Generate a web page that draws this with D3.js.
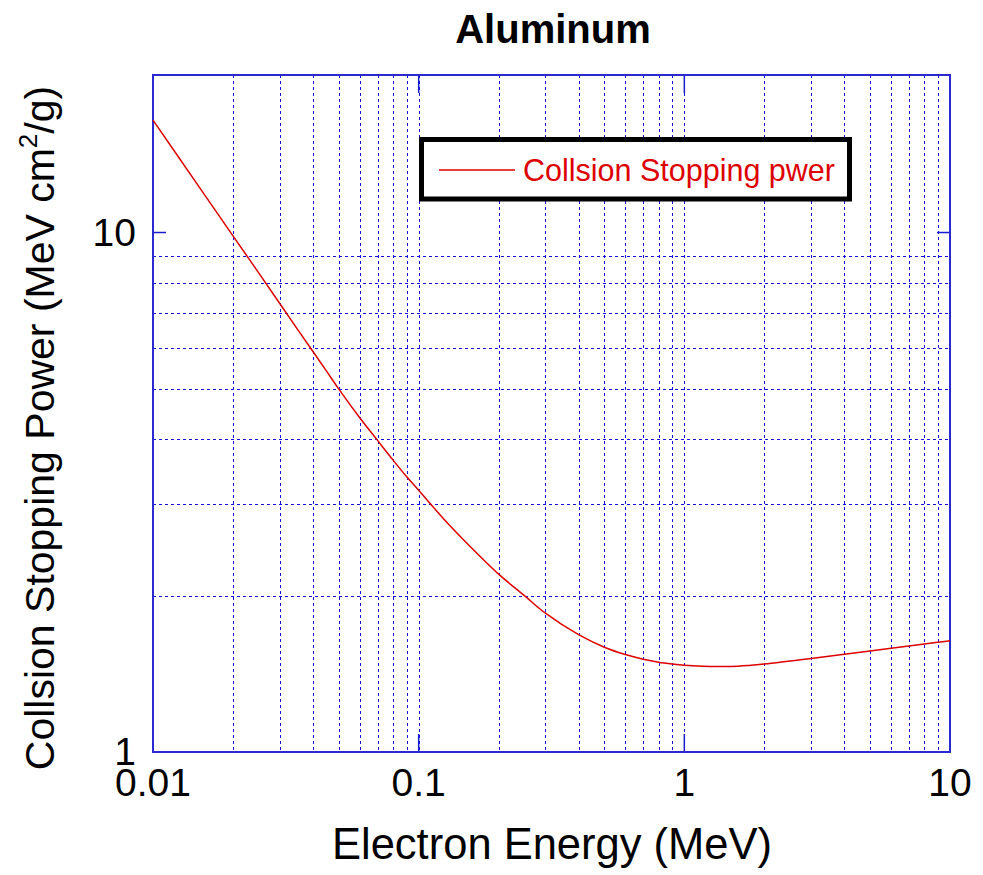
<!DOCTYPE html>
<html><head><meta charset="utf-8">
<script src="https://cdn.jsdelivr.net/npm/d3@7"></script>
<style>body{margin:0;background:#fff}svg{display:block;font-family:"Liberation Sans",Arial,sans-serif}</style>
</head><body>
<svg id="c" width="983" height="875"></svg>
<script>
const energy = [0.01,0.015,0.02,0.025,0.03,0.035,0.04,0.045,0.05,0.06,0.07,0.08,0.09,0.1,0.125,0.15,0.2,0.25,0.3,0.4,0.5,0.6,0.7,0.8,0.9,1,1.25,1.5,1.75,2,3,4,5,6,7,8,9,10];
const stopping = [16.46,12.19,9.85,8.36,7.30,6.51,5.90,5.41,5.00,4.40,3.98,3.65,3.39,3.19,2.80,2.54,2.20,2.00,1.850,1.682,1.591,1.540,1.509,1.489,1.477,1.469,1.461,1.461,1.468,1.477,1.514,1.543,1.564,1.584,1.600,1.614,1.626,1.638];
const xTicks = [0.01,0.1,1,10];
const xTickLabels = ["0.01","0.1","1","10"];
const yTicks = [1,10];
const yTickLabels = ["1","10"];
const yGrid = [2,3,4,5,6,7,8,9];
const title = "Aluminum";
const seriesName = "Collsion Stopping pwer";

const svg = d3.select("#c");
const L=153,R=950,T=75,B=752;
const x = d3.scaleLog().domain([0.01,10]).range([L,R]);
const y = d3.scaleLog().domain([1,20.1]).range([B,T]);
const gridColor = "#1010d8";

// vertical grid
const xGrid = [];
for (let d=0.01; d<10; d*=10) for (let k=2;k<=10;k++) xGrid.push(+(d*k).toPrecision(3));
svg.append("g").selectAll("line").data(xGrid.filter(v=>v<10)).join("line")
  .attr("x1",d=>Math.round(x(d))+0.5).attr("x2",d=>Math.round(x(d))+0.5)
  .attr("y1",T).attr("y2",B)
  .attr("stroke",gridColor).attr("stroke-width",1).attr("stroke-dasharray","3,3");
svg.append("g").selectAll("line").data(yGrid).join("line")
  .attr("y1",d=>Math.round(y(d))+0.5).attr("y2",d=>Math.round(y(d))+0.5)
  .attr("x1",L).attr("x2",R)
  .attr("stroke",gridColor).attr("stroke-width",1).attr("stroke-dasharray","3,3");

// major ticks (inward)
const tk = svg.append("g").attr("stroke","#1a1ad0").attr("stroke-width",1.5);
xTicks.forEach(v=>{
  tk.append("line").attr("x1",x(v)).attr("x2",x(v)).attr("y1",B).attr("y2",B-18);
  tk.append("line").attr("x1",x(v)).attr("x2",x(v)).attr("y1",T).attr("y2",T+18);
});
yTicks.forEach(v=>{
  tk.append("line").attr("y1",y(v)).attr("y2",y(v)).attr("x1",L).attr("x2",L+13);
  tk.append("line").attr("y1",y(v)).attr("y2",y(v)).attr("x1",R).attr("x2",R-13);
});

// frame
svg.append("rect").attr("x",L).attr("y",T).attr("width",R-L).attr("height",B-T)
  .attr("fill","none").attr("stroke","#2a2ad0").attr("stroke-width",2);

// curve
const line = d3.line().x((d,i)=>x(energy[i])).y(d=>y(d)).curve(d3.curveCatmullRom.alpha(0.5));
svg.append("path").datum(stopping).attr("d",line).attr("fill","none")
  .attr("stroke","#dd0000").attr("stroke-width",1.5);

// tick labels
svg.append("g").selectAll("text").data(xTicks).join("text")
  .attr("x",d=>x(d)).attr("y",796).attr("text-anchor","middle")
  .attr("font-size",39).text((d,i)=>xTickLabels[i]);
svg.append("g").selectAll("text").data(yTicks).join("text")
  .attr("x",L-17).attr("y",d=>y(d)+13).attr("text-anchor","end")
  .attr("font-size",39).text((d,i)=>yTickLabels[i]);

// title
svg.append("text").attr("x",553).attr("y",43).attr("text-anchor","middle")
  .attr("font-size",40).attr("font-weight","bold").text(title);

// axis labels
svg.append("text").attr("x",552).attr("y",859).attr("text-anchor","middle")
  .attr("font-size",43.5).text("Electron Energy (MeV)");
const yl = svg.append("text").attr("transform","translate(54,428) rotate(-90)")
  .attr("text-anchor","middle").attr("font-size",41);
yl.append("tspan").text("Collsion Stopping Power (MeV cm");
yl.append("tspan").attr("font-size",26).attr("dy",-17).text("2");
yl.append("tspan").attr("dy",17).text("/g)");

// legend
const lg = svg.append("g");
lg.append("rect").attr("x",421.5).attr("y",139.5).attr("width",428).attr("height",59.5)
  .attr("fill","#fff").attr("stroke","#000").attr("stroke-width",5);
lg.append("line").attr("x1",439).attr("x2",515).attr("y1",170).attr("y2",170)
  .attr("stroke","#dd0000").attr("stroke-width",1.5);
lg.append("text").attr("x",523).attr("y",181).attr("font-size",30.5)
  .attr("fill","#dd0000").text(seriesName);
</script>
</body></html>
